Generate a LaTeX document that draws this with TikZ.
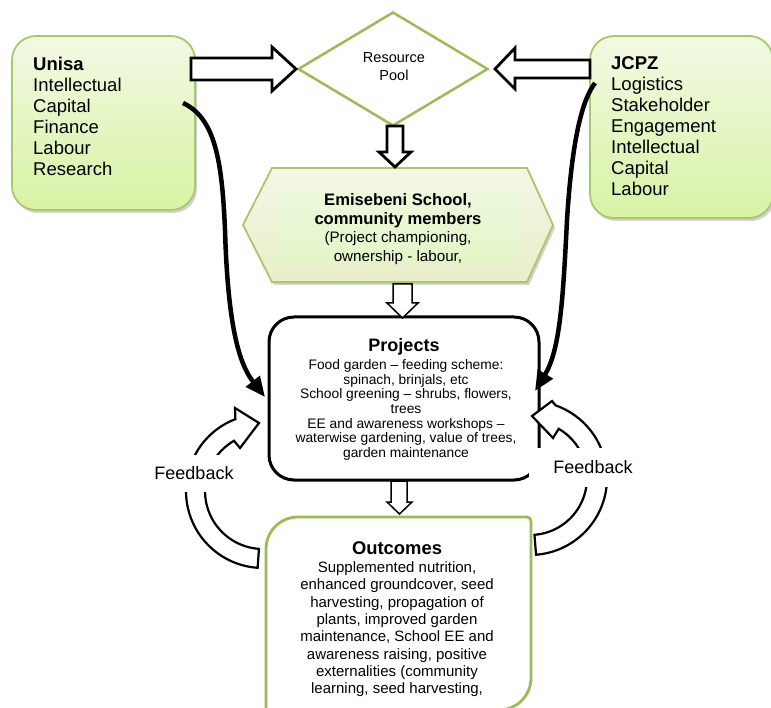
\documentclass[tikz,border=0pt]{standalone}
\usepackage{fontspec}
\setmainfont{Liberation Sans}
\usetikzlibrary{shapes.geometric,shadows,arrows.meta,calc}
\definecolor{lgreen}{HTML}{9BBB59}
\definecolor{bgreen}{HTML}{A8C76E}
\definecolor{ftop}{HTML}{F2F9E4}
\definecolor{fbot}{HTML}{D8F3A4}
\definecolor{htop}{HTML}{F5F6E6}
\definecolor{hbot}{HTML}{E8EFC8}
\definecolor{ptop}{HTML}{EDF8DE}
\definecolor{pbot}{HTML}{E4F5C8}
\tikzset{
  srcbox/.style={draw=bgreen, line width=1.8pt, rounded corners=24pt, top color=ftop, bottom color=fbot,
    drop shadow={shadow xshift=2pt, shadow yshift=-3pt, opacity=0.3, fill=black!60}},
  srctext/.style={font=\fontsize{18.5}{21}\selectfont, align=left, inner sep=0pt, anchor=north west},
  blockarrow/.style={draw=black, line width=2.8pt, fill=white, line join=miter},
  thinarrow/.style={draw=black, line width=1.5pt, fill=white, line join=miter},
  curvearrow/.style={line width=4.5pt, -{Triangle[length=20pt,width=17pt]}},
  fbarrow/.style={draw=black, line width=2.2pt, fill=white, line join=miter},
  fblabel/.style={fill=white, inner sep=0pt, font=\fontsize{18}{21}\selectfont},
}
\begin{document}
\begin{tikzpicture}[x=1pt,y=-1pt]
\useasboundingbox (0,0) rectangle (771,708);

% source boxes
\node[srcbox, minimum width=183pt, minimum height=174pt] (unisa) at (103.5,123) {};
\node[srcbox, minimum width=183pt, minimum height=182pt] (jcpz) at (681.5,127) {};
\node[srctext] (unisatext) at (33,56.5) {\textbf{Unisa}\\Intellectual\\Capital\\Finance\\Labour\\Research};
\node[srctext] (jcpztext) at (611,56.5) {\textbf{JCPZ}\\Logistics\\Stakeholder\\Engagement\\Intellectual\\Capital\\Labour};

% resource pool
\node[diamond, draw=lgreen, line width=2.5pt, fill=white, minimum width=190pt, minimum height=114pt, inner sep=0pt] (pool) at (393,69) {};
\node[font=\fontsize{14.5}{18}\selectfont, align=center, inner sep=0pt] (pooltext) at (394,67) {Resource\\Pool};

% school hexagon
\draw[draw=bgreen, line width=1.8pt, top color=htop, bottom color=hbot,
  drop shadow={shadow xshift=2pt, shadow yshift=-3pt, opacity=0.3, fill=black!60}]
  (243,225) -- (272,168) -- (527,168) -- (553,225) -- (527,282) -- (272,282) -- cycle;
\fill[top color=ptop, bottom color=pbot] (278,188) rectangle (518,262);
\node[font=\fontsize{16.6}{19}\selectfont\bfseries, align=center, inner sep=0pt, anchor=north] (school) at (398,192.9) {Emisebeni School,\\community members};
\node[font=\fontsize{15.2}{18.5}\selectfont, align=center, inner sep=0pt, anchor=north] (schooltext) at (398,231.4) {(Project championing,\\ownership - labour,};

% projects box
\node[draw, line width=3pt, rounded corners=25pt, fill=white, minimum width=270pt, minimum height=163pt] (proj) at (404,398.5) {};
\node[font=\fontsize{18}{20}\selectfont\bfseries, anchor=base, inner sep=0pt] (projtitle) at (404,351.5) {Projects};
\node[font=\fontsize{13.8}{14.6}\selectfont, align=center, anchor=north, inner sep=0pt] (projtext) at (406,359.5) {Food garden – feeding scheme:\\spinach, brinjals, etc\\School greening – shrubs, flowers,\\trees\\EE and awareness workshops –\\waterwise gardening, value of trees,\\garden maintenance};

% outcomes box
\draw[lgreen, line width=2.8pt, fill=white] (266,720) -- (266,549) arc[start angle=180,end angle=270,radius=32]
  -- (527,517) arc[start angle=270,end angle=360,radius=4] -- (531,678) arc[start angle=0,end angle=90,radius=32] -- (266,710) -- cycle;
\node[font=\fontsize{18.4}{20}\selectfont\bfseries, anchor=base, inner sep=0pt] (outtitle) at (397,554.6) {Outcomes};
\node[font=\fontsize{15}{17.3}\selectfont, align=center, anchor=north, inner sep=0pt] (outtext) at (397,561.5) {Supplemented nutrition,\\enhanced groundcover, seed\\harvesting, propagation of\\plants, improved garden\\maintenance, School EE and\\awareness raising, positive\\externalities (community\\learning, seed harvesting,};

% block arrows
\draw[blockarrow] (191,58) -- (272,58) -- (272,47) -- (296,69) -- (272,91) -- (272,80) -- (191,80) -- cycle;
\draw[blockarrow] (590,60) -- (515,60) -- (515,48) -- (495,69) -- (515,89) -- (515,78) -- (590,78) -- cycle;
\draw[blockarrow] (387,126) -- (387,152) -- (379,152) -- (395,167) -- (411,152) -- (403,152) -- (403,126) -- cycle;
\draw[thinarrow] (393,284) -- (393,303) -- (387,303) -- (402.5,318) -- (418,303) -- (412,303) -- (412,284) -- cycle;
\draw[thinarrow] (391,481) -- (391,502) -- (387,502) -- (399.5,514) -- (412,502) -- (407,502) -- (407,481) -- cycle;

% curved arrows
\coordinate (ustart) at (183,103);
\coordinate (uend) at (265,397);
\coordinate (jstart) at (595,83);
\coordinate (jend) at (535,391);
\draw[curvearrow] (ustart) .. controls (215,118) and (222,160) .. (225,230) .. controls (228,330) and (240,365) .. (uend);
\draw[curvearrow] (jstart) .. controls (582,100) and (572,140) .. (567,220) .. controls (563,300) and (560,350) .. (jend);

% feedback arrows
\draw[fbarrow] ($(263,491)+(-266:77)$) arc[start angle=-266,end angle=-111,radius=77] -- (235,408) -- (259,423) -- (240,448)
  -- ($(263,491)+(-120:58)$) arc[start angle=-120,end angle=-266,radius=58] -- cycle;
\draw[fbarrow] ($(530,478)+(85.5:77)$) arc[start angle=85.5,end angle=-70.6,radius=77] -- (552,401) -- (532,416) -- (553,438)
  -- ($(530,478)+(-59.7:57)$) arc[start angle=-59.7,end angle=85.5,radius=57] -- cycle;
\node[fblabel, minimum width=84pt, minimum height=37pt] (fbl) at (194,473.5) {Feedback};
\node[fblabel, minimum width=128pt, minimum height=39pt] (fbr) at (593,467.5) {Feedback};
\end{tikzpicture}
\end{document}
